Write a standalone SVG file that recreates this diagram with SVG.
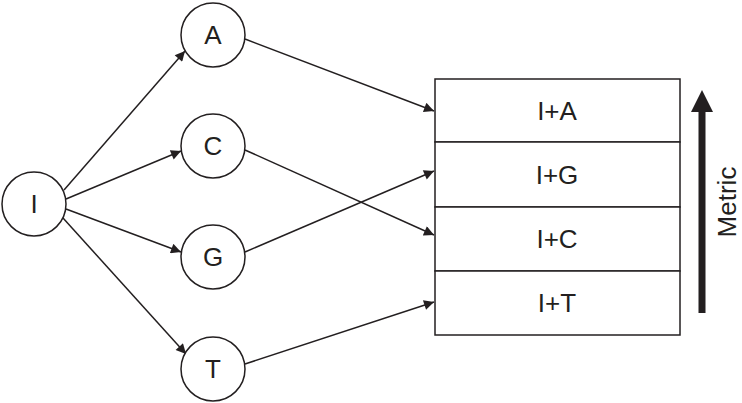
<svg xmlns="http://www.w3.org/2000/svg" width="742" height="403" viewBox="0 0 742 403">
<defs>
<style>
circle,rect{fill:#fff;stroke:#231f20;stroke-width:1.5}
text{font-family:"Liberation Sans",Arial,sans-serif;font-size:26px;fill:#231f20;text-anchor:middle;dominant-baseline:central}
.c line{stroke:#231f20;stroke-width:1.5;marker-end:url(#ah)}
</style>
<marker id="ah" viewBox="0 0 10 10" refX="10" refY="5" markerWidth="11" markerHeight="10" markerUnits="userSpaceOnUse" orient="auto"><path d="M0,0L10,5L0,10z" fill="#231f20"/></marker>
</defs>
<g class="c">
<line x1="64" y1="190" x2="185" y2="51"/>
<line x1="66" y1="199" x2="181" y2="151"/>
<line x1="66" y1="209" x2="181" y2="252"/>
<line x1="63" y1="218" x2="186" y2="354"/>
<line x1="245" y1="39" x2="434" y2="111"/>
<line x1="245" y1="150" x2="434" y2="235"/>
<line x1="245" y1="252" x2="434" y2="171"/>
<line x1="245" y1="364" x2="434" y2="302"/>
</g>
<g id="I"><circle cx="34" cy="204" r="32"/><text x="34" y="204">I</text></g>
<g id="A"><circle cx="213" cy="35" r="32"/><text x="213" y="35">A</text></g>
<g id="C"><circle cx="213" cy="146" r="32"/><text x="213" y="146">C</text></g>
<g id="G"><circle cx="213" cy="257" r="32"/><text x="213" y="257">G</text></g>
<g id="T"><circle cx="213" cy="369" r="32"/><text x="213" y="369">T</text></g>
<g id="list">
<rect x="435" y="79" width="245" height="63"/><text x="557" y="111">I+A</text>
<rect x="435" y="142" width="245" height="65"/><text x="557" y="175">I+G</text>
<rect x="435" y="207" width="245" height="64"/><text x="557" y="239">I+C</text>
<rect x="435" y="271" width="245" height="64"/><text x="557" y="303">I+T</text>
</g>
<g id="metric">
<line x1="702" y1="313" x2="702" y2="105" stroke="#231f20" stroke-width="7"/>
<path d="M691,112L702,90L713,112z" fill="#231f20"/>
<text x="727" y="202" transform="rotate(-90 727 202)">Metric</text>
</g>
</svg>
